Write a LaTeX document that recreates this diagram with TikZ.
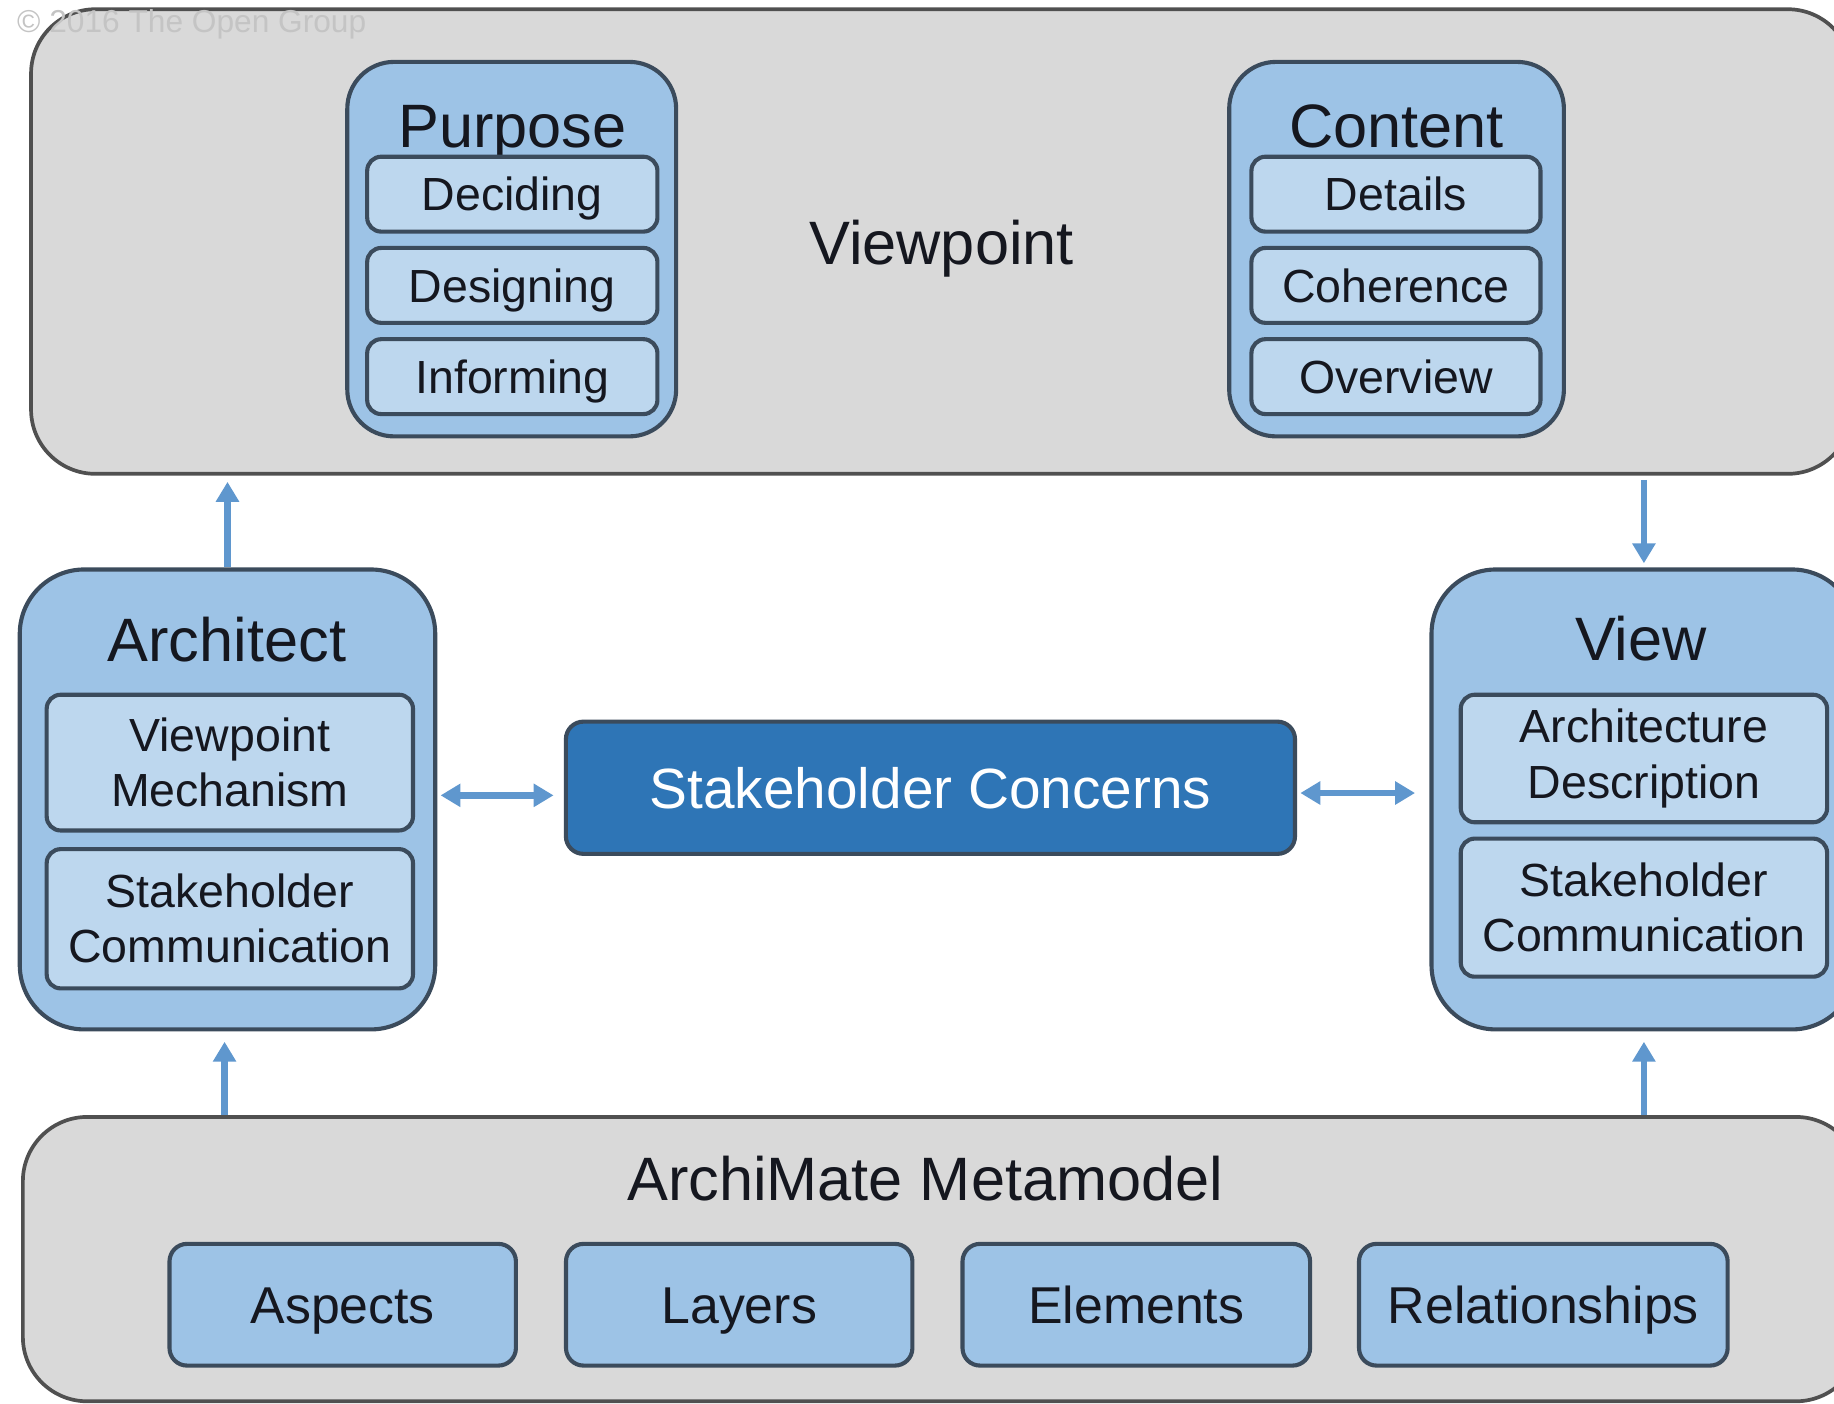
\documentclass[tikz,border=0pt]{standalone}
\usepackage{fontspec}
\setmainfont{Liberation Sans}
\usetikzlibrary{arrows.meta}
\definecolor{boxgray}{HTML}{D9D9D9}
\definecolor{grayline}{HTML}{505050}
\definecolor{midblue}{HTML}{9DC3E6}
\definecolor{lightblue}{HTML}{BDD7EE}
\definecolor{blueline}{HTML}{3B4B5C}
\definecolor{darkblue}{HTML}{2E75B6}
\definecolor{arrowblue}{HTML}{5F97CE}
\definecolor{txt}{HTML}{15171F}
\definecolor{faint}{HTML}{C4C4C4}
\begin{document}
\begin{tikzpicture}[x=0.01cm, y=-0.01cm,
  graybox/.style={draw=grayline, fill=boxgray, line width=0.9pt, rounded corners=0.55cm, inner sep=0pt},
  groupbox/.style={draw=blueline, fill=midblue, line width=1pt, inner sep=0pt},
  itembox/.style={draw=blueline, fill=lightblue, line width=1pt, rounded corners=0.12cm, inner sep=0pt,
    align=center, text=txt, font=\fontsize{11.3}{13.4}\selectfont},
  oneline/.style={text height=#1, text depth=0pt},
  partbox/.style={draw=blueline, fill=midblue, line width=1pt, rounded corners=0.15cm, inner sep=0pt, oneline=9.02pt,
    minimum width=2.96cm, minimum height=1.04cm, text=txt, font=\fontsize{12.6}{15}\selectfont},
  title/.style={text=txt, inner sep=0pt, oneline=10.67pt, font=\fontsize{14.9}{17}\selectfont},
  link/.style={draw=arrowblue, line width=1.6pt, -{Triangle[length=1.7mm,width=1.9mm]}},
  duallink/.style={draw=arrowblue, line width=1.6pt, {Triangle[length=1.7mm,width=1.9mm]}-{Triangle[length=1.7mm,width=1.9mm]}}]
\useasboundingbox (0,0) rectangle (1568,1200);
\clip (0,0) rectangle (1568,1200);

\node[graybox, minimum width=15.56cm, minimum height=3.97cm] (vp) at (805,206.5){};
\node[title] (vpT) at (805,207){Viewpoint};

\node[groupbox, rounded corners=0.4cm, minimum width=2.81cm, minimum height=3.2cm] (purpose) at (437.5,213){};
\node[title] (purposeT) at (438,107){Purpose};
\node[itembox, oneline=8.09pt, minimum width=2.48cm, minimum height=0.64cm] (deciding) at (438,166){Deciding};
\node[itembox, oneline=8.09pt, minimum width=2.48cm, minimum height=0.64cm] (designing) at (438,244){Designing};
\node[itembox, oneline=8.09pt, minimum width=2.48cm, minimum height=0.64cm] (informing) at (438,322){Informing};

\node[groupbox, rounded corners=0.4cm, minimum width=2.86cm, minimum height=3.2cm] (content) at (1194,213){};
\node[title] (contentT) at (1194,107){Content};
\node[itembox, oneline=8.09pt, minimum width=2.47cm, minimum height=0.64cm] (details) at (1193.5,166){Details};
\node[itembox, oneline=8.09pt, minimum width=2.47cm, minimum height=0.64cm] (coherence) at (1193.5,244){Coherence};
\node[itembox, oneline=8.09pt, minimum width=2.47cm, minimum height=0.64cm] (overview) at (1193.5,322){Overview};

\node[groupbox, rounded corners=0.55cm, minimum width=3.55cm, minimum height=3.93cm] (arch) at (194.5,683.5){};
\node[title] (archT) at (194,547){Architect};
\node[itembox, minimum width=3.13cm, minimum height=1.16cm] (mech) at (196.5,652){Viewpoint\\Mechanism};
\node[itembox, minimum width=3.13cm, minimum height=1.19cm] (archcomm) at (196.5,785.5){Stakeholder\\Communication};

\node[groupbox, rounded corners=0.55cm, minimum width=3.63cm, minimum height=3.93cm] (view) at (1405.5,683.5){};
\node[title] (viewT) at (1403,546){View};
\node[itembox, minimum width=3.13cm, minimum height=1.09cm] (archdesc) at (1405.5,648.5){Architecture\\Description};
\node[itembox, minimum width=3.13cm, minimum height=1.18cm] (viewcomm) at (1405.5,776){Stakeholder\\Communication};

\node[draw=blueline, fill=darkblue, line width=1pt, rounded corners=0.15cm, minimum width=6.23cm, minimum height=1.13cm,
  oneline=9.88pt, text=white, font=\fontsize{13.8}{16}\selectfont] (concerns) at (795.5,673.5){Stakeholder Concerns};

\node[graybox, minimum width=15.7cm, minimum height=2.43cm] (meta) at (805,1076.5){};
\node[title] (metaT) at (791,1007.5){ArchiMate Metamodel};
\node[partbox] (aspects) at (293,1115.5){Aspects};
\node[partbox] (layers) at (632,1115.5){Layers};
\node[partbox, minimum width=2.97cm] (elements) at (971.5,1115.5){Elements};
\node[partbox, minimum width=3.15cm] (relations) at (1319.5,1115.5){Relationships};

\node[text=faint, anchor=west, inner sep=0pt, font=\fontsize{7.7}{9}\selectfont] (copy) at (14,21){© 2016 The Open Group};

\draw[link, shorten >=1.5pt] (arch.north) -- (vp.south -| arch.north);
\draw[link, shorten <=1pt, shorten >=1pt] (vp.south -| view.north) -- (view.north);
\draw[link, shorten >=2.5pt] (meta.north -| 192,0) -- (arch.south -| 192,0);
\draw[link, shorten >=2.5pt] (meta.north -| view.south) -- (view.south);
\draw[duallink, shorten <=0.8pt, shorten >=2.5pt] (arch.east |- 0,680) -- (concerns.west |- 0,680);
\draw[duallink, shorten <=0.8pt, shorten >=3.5pt] (concerns.east |- 0,678) -- (view.west |- 0,678);
\end{tikzpicture}
\end{document}
